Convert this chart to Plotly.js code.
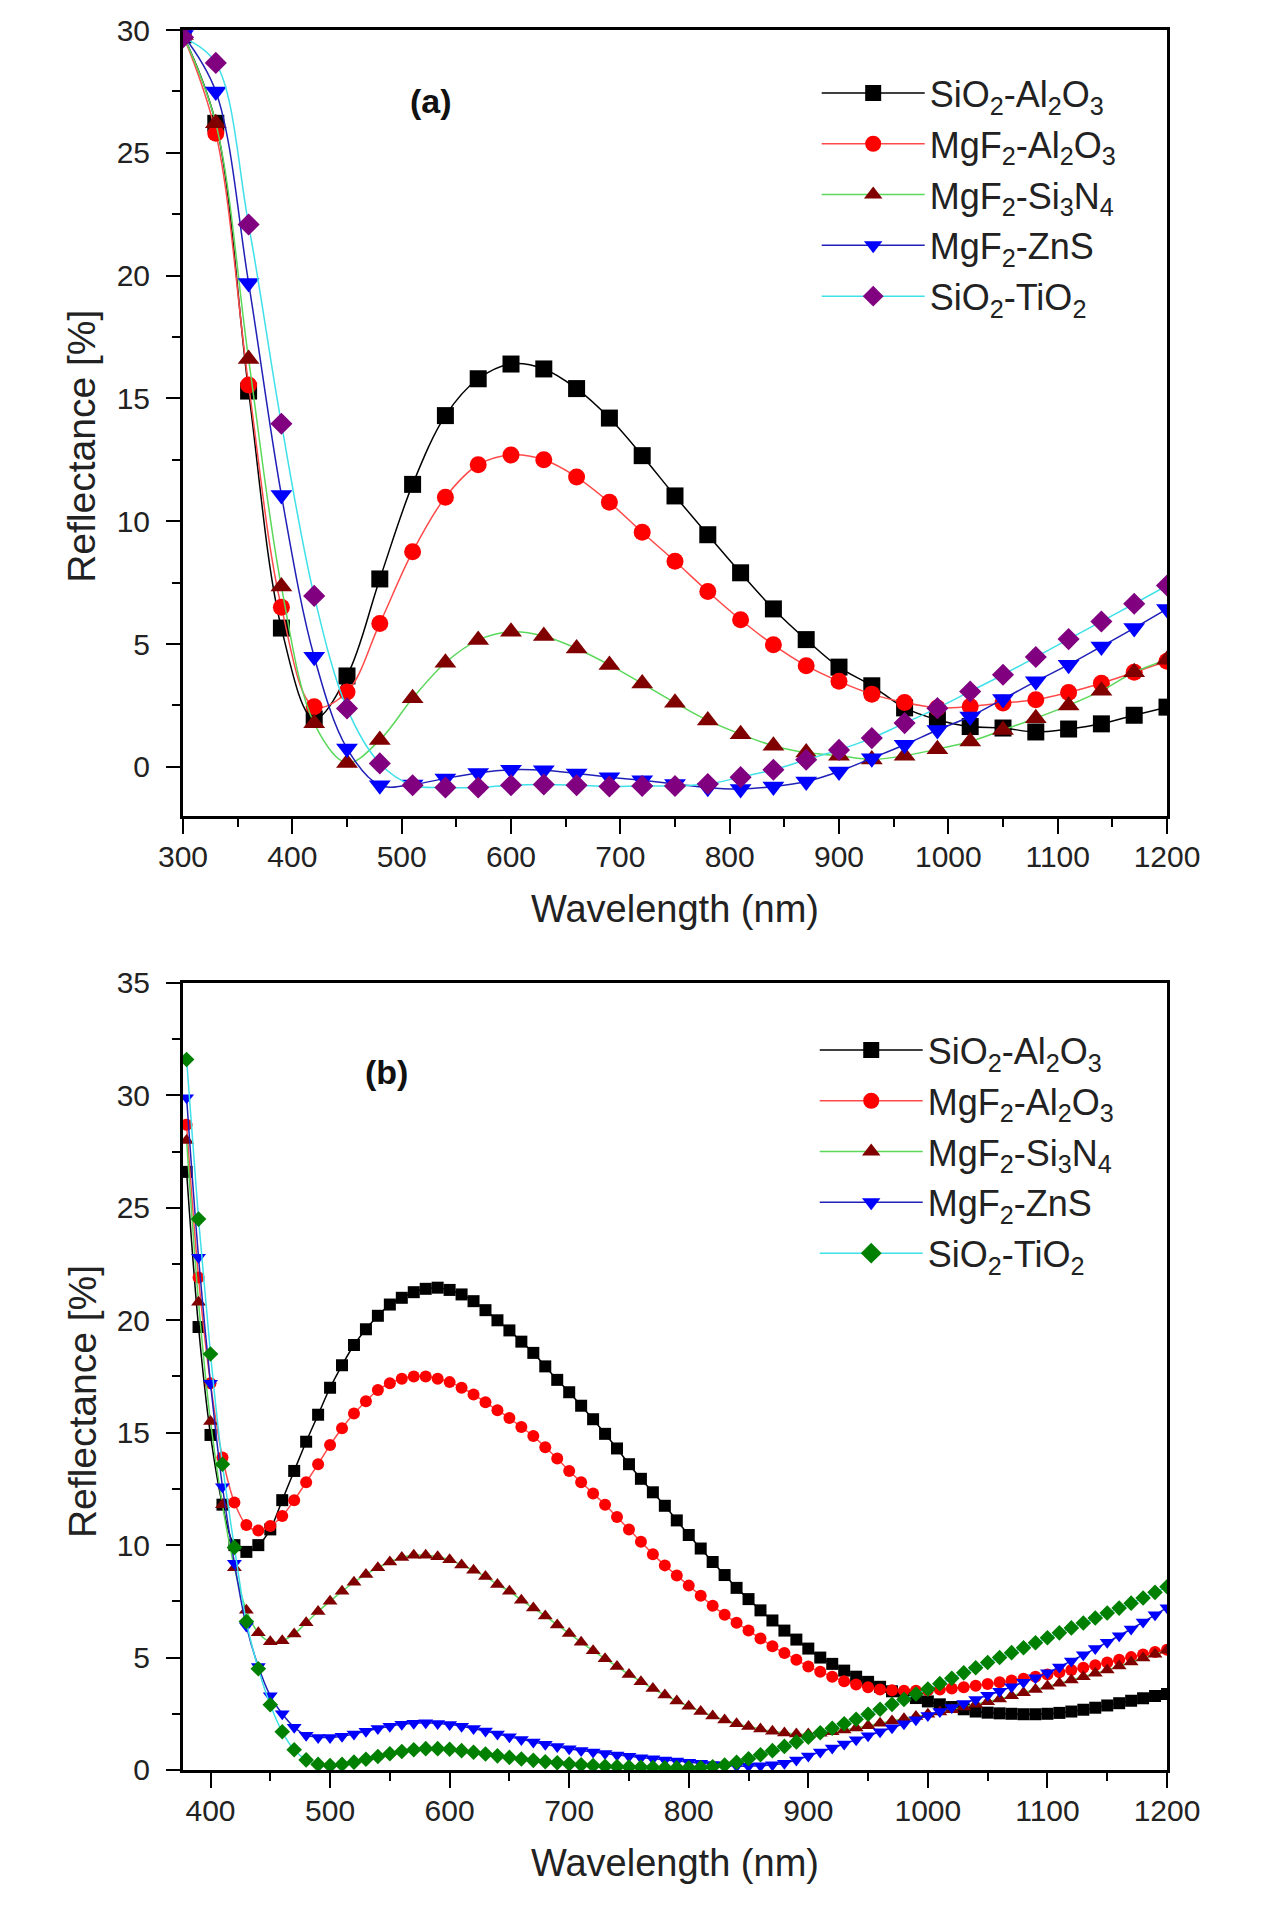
<!DOCTYPE html>
<html>
<head>
<meta charset="utf-8">
<script src="https://cdn.plot.ly/plotly-3.0.1.min.js"></script>
<style>
  html, body { margin: 0; padding: 0; background: #ffffff; }
  #chart { width: 1280px; height: 1912px; }
</style>
</head>
<body>
<div id="chart"></div>
<script>
// ---------- Series names ----------
const seriesNames = [
  'SiO<sub>2</sub>-Al<sub>2</sub>O<sub>3</sub>',
  'MgF<sub>2</sub>-Al<sub>2</sub>O<sub>3</sub>',
  'MgF<sub>2</sub>-Si<sub>3</sub>N<sub>4</sub>',
  'MgF<sub>2</sub>-ZnS',
  'SiO<sub>2</sub>-TiO<sub>2</sub>'
];

// ---------- Panel (a): wavelength (nm) ----------
const wavelengthA = [300,330,360,390,420,450,480,510,540,570,600,630,660,690,720,750,780,810,840,870,900,930,960,990,1020,1050,1080,1110,1140,1170,1200];

const a_SiO2_Al2O3 = [29.8,26.2,15.3,5.65,1.95,3.7,7.65,11.5,14.3,15.8,16.4,16.2,15.4,14.2,12.67,11.03,9.45,7.9,6.43,5.18,4.06,3.3,2.4,1.92,1.64,1.58,1.42,1.54,1.75,2.1,2.43];
const a_MgF2_Al2O3 = [29.8,25.8,15.55,6.5,2.45,3.05,5.84,8.76,10.98,12.3,12.7,12.5,11.8,10.77,9.55,8.37,7.14,5.99,4.97,4.12,3.48,2.96,2.62,2.4,2.46,2.6,2.73,3.03,3.4,3.85,4.3];
const a_MgF2_Si3N4 = [29.8,26.2,16.6,7.34,1.77,0.16,1.09,2.79,4.24,5.16,5.5,5.33,4.82,4.15,3.39,2.61,1.89,1.33,0.86,0.58,0.45,0.3,0.45,0.72,1.03,1.5,1.98,2.5,3.1,3.85,4.36];
const a_MgF2_ZnS   = [29.8,27.5,19.7,11.07,4.48,0.75,-0.75,-0.72,-0.47,-0.25,-0.12,-0.14,-0.27,-0.42,-0.55,-0.7,-0.85,-0.9,-0.8,-0.6,-0.19,0.35,0.9,1.5,2.05,2.76,3.48,4.16,4.9,5.65,6.43];
const a_SiO2_TiO2  = [29.7,28.66,22.08,13.97,6.96,2.38,0.14,-0.75,-0.84,-0.84,-0.75,-0.72,-0.75,-0.8,-0.78,-0.78,-0.7,-0.42,-0.12,0.29,0.69,1.17,1.78,2.39,3.07,3.75,4.47,5.2,5.92,6.64,7.38];

// ---------- Panel (b): wavelength (nm) ----------
const wavelengthB = [380,390,400,410,420,430,440,450,460,470,480,490,500,510,520,530,540,550,560,570,580,590,600,610,620,630,640,650,660,670,680,690,700,710,720,730,740,750,760,770,780,790,800,810,820,830,840,850,860,870,880,890,900,910,920,930,940,950,960,970,980,990,1000,1010,1020,1030,1040,1050,1060,1070,1080,1090,1100,1110,1120,1130,1140,1150,1160,1170,1180,1190,1200];

const b_SiO2_Al2O3 = [26.6,19.7,14.9,11.8,10.0,9.7,10.0,10.7,12.0,13.3,
  14.6,15.8,17.0,18.0,18.9,19.6,20.2,20.7,21.0,21.25,
  21.4,21.45,21.35,21.15,20.85,20.45,20.0,19.55,19.05,18.55,
  17.95,17.35,16.8,16.2,15.6,14.95,14.3,13.6,12.95,12.35,
  11.75,11.1,10.45,9.85,9.25,8.67,8.1,7.6,7.1,6.65,
  6.2,5.8,5.4,5.0,4.72,4.42,4.15,3.92,3.7,3.5,
  3.34,3.2,3.05,2.92,2.8,2.7,2.6,2.55,2.52,2.5,
  2.48,2.48,2.5,2.54,2.6,2.68,2.77,2.87,2.97,3.08,
  3.19,3.29,3.38];
const b_MgF2_Al2O3 = [28.7,21.9,17.2,13.9,11.9,10.9,10.65,10.85,11.3,12.0,
  12.8,13.6,14.45,15.2,15.85,16.4,16.9,17.2,17.4,17.5,
  17.5,17.4,17.25,17.0,16.7,16.35,16.0,15.65,15.25,14.85,
  14.35,13.85,13.3,12.8,12.3,11.8,11.25,10.7,10.15,9.6,
  9.1,8.65,8.2,7.75,7.3,6.9,6.55,6.2,5.85,5.5,
  5.2,4.9,4.6,4.37,4.15,3.95,3.8,3.68,3.58,3.55,
  3.53,3.53,3.55,3.58,3.62,3.68,3.75,3.82,3.9,3.98,
  4.06,4.15,4.25,4.35,4.45,4.55,4.66,4.78,4.9,5.02,
  5.14,5.25,5.35];
const b_MgF2_Si3N4 = [28.0,20.8,15.5,11.8,9.0,7.1,6.1,5.7,5.75,6.05,
  6.55,7.05,7.5,7.95,8.35,8.7,9.0,9.25,9.45,9.55,
  9.55,9.48,9.35,9.12,8.88,8.6,8.25,7.95,7.55,7.2,
  6.85,6.45,6.07,5.68,5.3,4.95,4.6,4.25,3.93,3.62,
  3.33,3.07,2.83,2.6,2.4,2.22,2.06,1.93,1.82,1.72,
  1.65,1.6,1.6,1.64,1.7,1.78,1.87,1.97,2.08,2.18,
  2.28,2.38,2.48,2.58,2.68,2.8,2.92,3.04,3.16,3.3,
  3.44,3.58,3.72,3.86,4.0,4.15,4.3,4.45,4.62,4.8,
  4.98,5.15,5.33];
const b_MgF2_ZnS = [29.9,22.8,17.2,12.6,9.2,6.4,4.6,3.3,2.5,1.9,
  1.55,1.45,1.45,1.5,1.6,1.72,1.85,1.95,2.03,2.08,
  2.1,2.07,2.02,1.95,1.85,1.73,1.6,1.48,1.36,1.25,
  1.14,1.04,0.95,0.87,0.8,0.73,0.67,0.61,0.55,0.5,
  0.45,0.4,0.35,0.3,0.25,0.21,0.18,0.17,0.19,0.23,
  0.3,0.45,0.62,0.8,0.98,1.16,1.34,1.52,1.7,1.88,
  2.06,2.24,2.42,2.6,2.78,2.96,3.14,3.32,3.5,3.7,
  3.9,4.1,4.32,4.58,4.85,5.12,5.4,5.68,5.97,6.27,
  6.58,6.9,7.22];
const b_SiO2_TiO2 = [31.6,24.5,18.5,13.6,9.9,6.6,4.5,2.9,1.7,0.9,
  0.45,0.25,0.2,0.25,0.35,0.48,0.6,0.72,0.82,0.9,
  0.95,0.95,0.92,0.86,0.79,0.71,0.63,0.56,0.49,0.43,
  0.37,0.32,0.27,0.23,0.2,0.17,0.15,0.13,0.12,0.11,
  0.1,0.1,0.1,0.11,0.14,0.22,0.34,0.5,0.68,0.86,
  1.05,1.25,1.46,1.66,1.86,2.06,2.26,2.48,2.7,2.92,
  3.14,3.38,3.6,3.84,4.08,4.32,4.55,4.78,5.0,5.22,
  5.44,5.66,5.88,6.1,6.32,6.54,6.76,6.98,7.2,7.42,
  7.65,7.9,8.15];

// ---------- Styles ----------
const lineColors    = ['#000000', '#ff4a4a', '#5ad85a', '#2020b8', '#3fe0e8'];
const markerColorsA = ['#000000', '#ff0000', '#800000', '#0000ff', '#800080'];
const markerColorsB = ['#000000', '#ff0000', '#800000', '#0000ff', '#008000'];
const symbols = ['square', 'circle', 'triangle-up', 'triangle-down', 'diamond'];
const sizesA = [17, 17, 19, 19, 17];
const sizesB = [12, 12, 13, 13, 12];
const legendMarkerSize = 17;

const FONT = 'Liberation Sans, Arial, Helvetica, sans-serif';

const dataA = [a_SiO2_Al2O3, a_MgF2_Al2O3, a_MgF2_Si3N4, a_MgF2_ZnS, a_SiO2_TiO2];
const dataB = [b_SiO2_Al2O3, b_MgF2_Al2O3, b_MgF2_Si3N4, b_MgF2_ZnS, b_SiO2_TiO2];

const traces = [];
dataA.forEach((ys, i) => {
  traces.push({
    type: 'scatter', mode: 'lines+markers',
    x: wavelengthA, y: ys, xaxis: 'x', yaxis: 'y',
    name: seriesNames[i], legend: 'legend', legendgroup: 'a' + i,
    line: { color: lineColors[i], width: 1.5, shape: 'spline', smoothing: 1 },
    marker: { symbol: symbols[i], size: sizesA[i], color: markerColorsA[i], line: { width: 0 } }
  });
});
dataB.forEach((ys, i) => {
  traces.push({
    type: 'scatter', mode: 'lines+markers',
    x: wavelengthB, y: ys, xaxis: 'x2', yaxis: 'y2',
    name: seriesNames[i], showlegend: false, legendgroup: 'b' + i,
    line: { color: lineColors[i], width: 1.5, shape: 'spline', smoothing: 1 },
    marker: { symbol: symbols[i], size: sizesB[i], color: markerColorsB[i], line: { width: 0 } }
  });
});
// legend entries for panel (b), drawn with the larger legend marker size
seriesNames.forEach((nm, i) => {
  traces.push({
    type: 'scatter', mode: 'lines+markers',
    x: [null], y: [null], xaxis: 'x2', yaxis: 'y2',
    name: nm, legend: 'legend2', legendgroup: 'b' + i, hoverinfo: 'skip',
    line: { color: lineColors[i], width: 1.5 },
    marker: { symbol: symbols[i], size: legendMarkerSize, color: markerColorsB[i], line: { width: 0 } }
  });
});

function xAxis(range, tick0, anchor) {
  return {
    anchor: anchor, domain: [0, 1], range: range, tick0: tick0, dtick: 100,
    ticks: 'outside', ticklen: 15, tickwidth: 2, tickcolor: '#000',
    showline: true, linecolor: '#000', linewidth: 3, mirror: true,
    showgrid: false, zeroline: false,
    tickfont: { family: FONT, size: 30, color: '#222' },
    ticklabelstandoff: -3,
    minor: { dtick: 50, ticks: 'outside', ticklen: 8, tickwidth: 2, tickcolor: '#000', showgrid: false },
    title: { text: 'Wavelength (nm)', font: { family: FONT, size: 38, color: '#222' }, standoff: 24 }
  };
}
function yAxis(range, domain, anchor) {
  return {
    anchor: anchor, domain: domain, range: range, tick0: 0, dtick: 5,
    ticks: 'outside', ticklen: 14, tickwidth: 2, tickcolor: '#000',
    showline: true, linecolor: '#000', linewidth: 3, mirror: true,
    showgrid: false, zeroline: false,
    tickfont: { family: FONT, size: 30, color: '#222' },
    ticklabelstandoff: 10,
    minor: { dtick: 2.5, ticks: 'outside', ticklen: 8, tickwidth: 2, tickcolor: '#000', showgrid: false }
  };
}

const legendCommon = {
  xanchor: 'left', yanchor: 'top',
  font: { family: FONT, size: 36, color: '#222' },
  bgcolor: 'rgba(0,0,0,0)', borderwidth: 0,
  itemwidth: 103, tracegroupgap: 1, traceorder: 'grouped'
};

const yTitle = (y) => ({
  text: 'Reflectance [%]', xref: 'paper', yref: 'paper', x: -0.1027, y: y,
  xanchor: 'center', yanchor: 'middle', textangle: -90, showarrow: false,
  font: { family: FONT, size: 39, color: '#222' }
});

const layout = {
  width: 1280, height: 1912,
  margin: { l: 183, r: 113, t: 30, b: 142 },
  paper_bgcolor: '#ffffff', plot_bgcolor: '#ffffff',
  showlegend: true,
  xaxis: xAxis([300, 1200], 300, 'y'),
  yaxis: yAxis([-2, 30], [0.5483, 1], 'x'),
  xaxis2: xAxis([377, 1200], 400, 'y2'),
  yaxis2: yAxis([0, 35], [0, 0.4523], 'x2'),
  legend: Object.assign({ x: 0.644, y: 0.981 }, legendCommon),
  legend2: Object.assign({ x: 0.642, y: 0.431 }, legendCommon),
  annotations: [
    { text: '<b>(a)</b>', xref: 'paper', yref: 'paper', x: 0.252, y: 0.959,
      xanchor: 'center', yanchor: 'middle', showarrow: false,
      font: { family: FONT, size: 34, color: '#111' } },
    { text: '<b>(b)</b>', xref: 'paper', yref: 'paper', x: 0.2073, y: 0.4011,
      xanchor: 'center', yanchor: 'middle', showarrow: false,
      font: { family: FONT, size: 34, color: '#111' } },
    yTitle(0.761),
    yTitle(0.212)
  ]
};

Plotly.newPlot('chart', traces, layout, { displayModeBar: false, staticPlot: true });
</script>
</body>
</html>
